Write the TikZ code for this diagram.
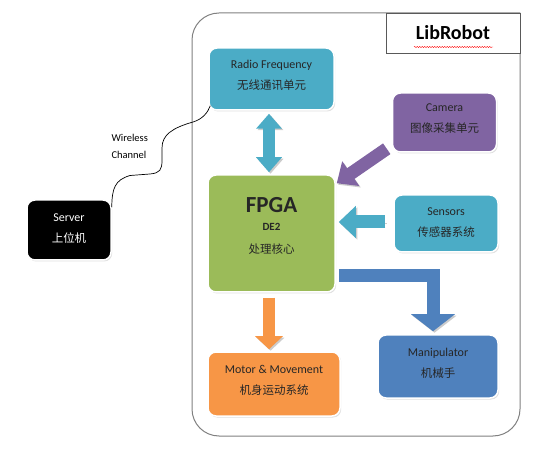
\documentclass[tikz,border=0pt]{standalone}
\usepackage{fontspec}
\setmainfont{Carlito}
\newfontfamily\cjk{Noto Sans CJK SC}
\usetikzlibrary{positioning,arrows.meta,shadows,decorations.pathmorphing}

\definecolor{rfblue}{HTML}{4BACC6}
\definecolor{campurple}{HTML}{8064A2}
\definecolor{fpgagreen}{HTML}{9BBB59}
\definecolor{motororange}{HTML}{F79646}
\definecolor{manipblue}{HTML}{4F81BD}
\definecolor{framegray}{HTML}{808080}

\newcommand\entext{\fontsize{12}{14}\selectfont}
\newcommand\cntext{\cjk\mdseries\fontsize{11.5}{14}\selectfont}

\tikzset{
  unitbox/.style={rounded corners=8pt, draw=white, line width=1.5pt, align=center,
    inner sep=0pt, text depth=8pt, text=black!85,
    drop shadow={opacity=0.25, shadow xshift=1.2pt, shadow yshift=-1.5pt}},
  fatarrow/.style={line width=#1, line join=miter,
    preaction={draw=black!20, transform canvas={xshift=1.5pt,yshift=-1.5pt}}},
}

\begin{document}
\begin{tikzpicture}[x=1pt,y=-1pt]
	\useasboundingbox (0,0) rectangle (552,465);
	%robot frame
	\draw[framegray, line width=1pt, rounded corners=27pt] (520,13) -- (192,13) -- (192,436) -- (520,436) -- (520,13);
	%title
	\node[draw=black!65, fill=white, line width=0.8pt, minimum width=134pt, minimum height=40pt] (lib) at (453,33) {\fontsize{20}{22}\selectfont\bfseries LibRobot};
	\draw[red, line width=0.4pt, decorate, decoration={snake, amplitude=0.6pt, segment length=2.5pt}] ([shift={(-39pt,-14pt)}]lib.center) -- ([shift={(40pt,-14pt)}]lib.center);
	
	%units
	\node[unitbox, fill=rfblue, minimum width=125pt, minimum height=62pt] (rf) at (271.5,79) {\entext Radio Frequency\\[9pt]\cntext 无线通讯单元};
	\node[unitbox, fill=campurple, minimum width=104pt, minimum height=59pt] (cam) at (444.5,122.5) {\entext Camera\\[9pt]\cntext 图像采集单元};
	\node[unitbox, fill=fpgagreen, minimum width=127pt, minimum height=117pt, text depth=17pt] (fpga) at (271.5,233.5) {\fontsize{23}{25}\selectfont\bfseries FPGA\\[6.5pt]\fontsize{11}{13}\selectfont\bfseries DE2\\[10.5pt]\cntext 处理核心};
	\node[unitbox, fill=rfblue, minimum width=104pt, minimum height=57pt, text depth=2pt] (sens) at (446,223.5) {\entext Sensors\\[9pt]\cntext 传感器系统};
	\node[unitbox, fill=motororange, minimum width=132pt, minimum height=64pt] (motor) at (274,384) {\entext Motor \& Movement\\[9pt]\cntext 机身运动系统};
	\node[unitbox, fill=manipblue, minimum width=120pt, minimum height=63pt] (manip) at (438,366.5) {\entext Manipulator\\[9pt]\cntext 机械手};
	
	%server
	\node[unitbox, fill=black, text=white, minimum width=84pt, minimum height=60pt, text depth=3pt] (server) at (69,230) {\entext Server\\[9pt]\cntext 上位机};
	\node[anchor=west, align=left, font=\fontsize{10.5}{17}\selectfont] (wl) at (108,146) {Wireless\\Channel};
	\draw[line width=0.7pt] ([yshift=-8pt]server.north east) .. controls (112,188) and (115,180) .. (130,175.5) -- (150,174) .. controls (160,173) and (162,170) .. (162,160) -- (162,148) .. controls (162,135) and (172,128) .. (193,122) .. controls (203,119) and (208,112) .. ([shift={(2pt,5pt)}]rf.south west);
	
	%data flow
	\draw[fatarrow=12pt, rfblue, {Triangle[length=15pt,width=25pt]}-{Triangle[length=15pt,width=25pt]}, shorten <=3pt, shorten >=2pt] ([xshift=-2.5pt]rf.south) -- ([xshift=-2.5pt]rf.south |- fpga.north);
	\draw[fatarrow=13pt, campurple, -{Triangle[length=17pt,width=29pt]}] ([shift={(-5pt,4pt)}]cam.south west) -- ([shift={(1pt,-9pt)}]fpga.north east);
	\draw[fatarrow=13pt, rfblue, -{Triangle[length=17pt,width=31pt]}, shorten <=8pt, shorten >=3pt] ([yshift=1.5pt]sens.west) -- ([yshift=1.5pt]sens.west -| fpga.east);
	\draw[fatarrow=12pt, motororange, -{Triangle[length=13pt,width=27pt]}, shorten <=5pt, shorten >=2pt] ([xshift=-2.5pt]fpga.south) -- ([xshift=-2.5pt]fpga.south |- motor.north);
	\draw[fatarrow=13pt, manipblue, -{Triangle[length=17pt,width=43pt]}, shorten <=3pt, shorten >=3pt] ([yshift=-42.5pt]fpga.east) -| ([xshift=-5pt]manip.north);
\end{tikzpicture}
\end{document}
